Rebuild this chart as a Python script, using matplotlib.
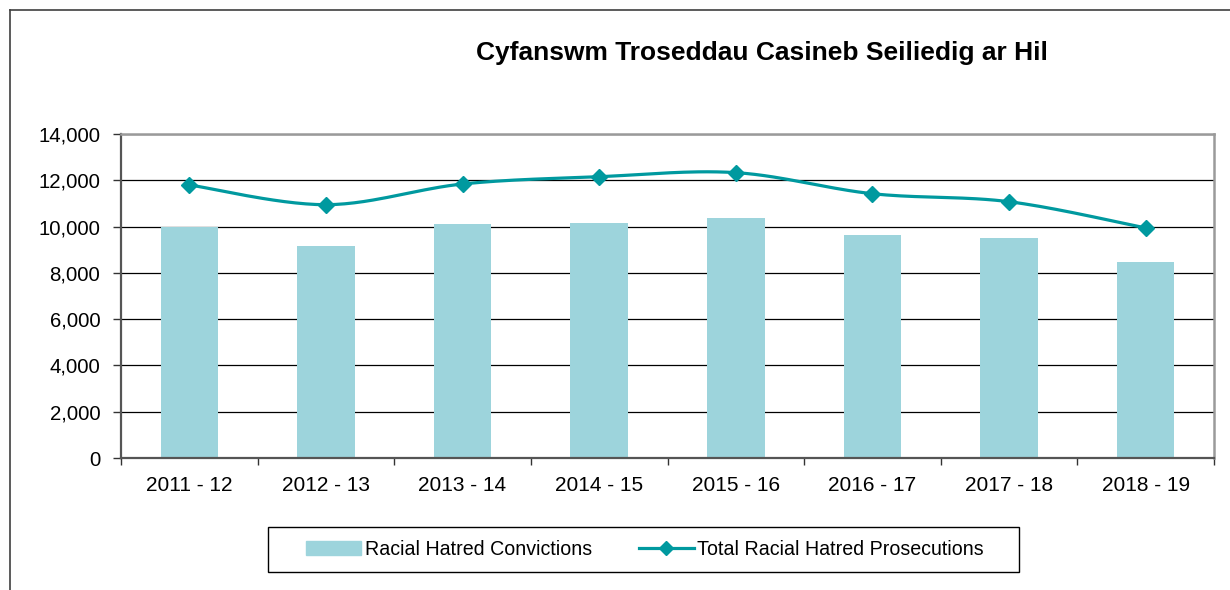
import numpy as np
import matplotlib
matplotlib.use("Agg")
import matplotlib.pyplot as plt
from matplotlib.patches import Rectangle
from matplotlib.lines import Line2D

categories = ["2011 - 12", "2012 - 13", "2013 - 14", "2014 - 15",
              "2015 - 16", "2016 - 17", "2017 - 18", "2018 - 19"]
convictions = [9990, 9160, 10110, 10150, 10385, 9620, 9505, 8455]
prosecutions = [11800, 10945, 11840, 12155, 12330, 11420, 11075, 9940]
title = "Cyfanswm Troseddau Casineb Seiliedig ar Hil"
bar_label = "Racial Hatred Convictions"
line_label = "Total Racial Hatred Prosecutions"

plt.rcParams['font.family'] = ['Liberation Sans', 'DejaVu Sans']

BAR_COLOR = '#9DD4DC'
LINE_COLOR = '#00999F'

fig = plt.figure(figsize=(12.3, 5.9), dpi=100)
ax = fig.add_axes([121/1230, 1 - 458/590, (1214-121)/1230, (458-134)/590])

x = np.arange(len(categories))
ax.bar(x, convictions, width=0.42, color=BAR_COLOR, zorder=2)


def catmull_rom(xs, ys, n=30):
    xs = np.asarray(xs, float)
    ys = np.asarray(ys, float)
    px = np.concatenate([[xs[0]], xs, [xs[-1]]])
    py = np.concatenate([[ys[0]], ys, [ys[-1]]])
    outx, outy = [], []
    t = np.linspace(0, 1, n)
    for i in range(1, len(px) - 2):
        p0 = np.array([px[i], py[i]])
        p3 = np.array([px[i + 1], py[i + 1]])
        c1 = p0 + (np.array([px[i + 1], py[i + 1]]) - np.array([px[i - 1], py[i - 1]])) / 6
        c2 = p3 - (np.array([px[i + 2], py[i + 2]]) - np.array([px[i], py[i]])) / 6
        b = ((1 - t) ** 3)[:, None] * p0 + (3 * (1 - t) ** 2 * t)[:, None] * c1 \
            + (3 * (1 - t) * t ** 2)[:, None] * c2 + (t ** 3)[:, None] * p3
        outx.extend(b[:, 0])
        outy.extend(b[:, 1])
    return np.array(outx), np.array(outy)


sx, sy = catmull_rom(x, prosecutions)
ax.plot(sx, sy, color=LINE_COLOR, lw=2.3, zorder=3, solid_capstyle='round')
ax.plot(x, prosecutions, linestyle='none', marker='D', markersize=8.5,
        color=LINE_COLOR, zorder=4)

ax.set_xlim(-0.5, len(categories) - 0.5)
ax.set_ylim(0, 14000)
ax.set_yticks(np.arange(0, 14001, 2000))
ax.set_yticklabels([f"{v:,}" for v in range(0, 14001, 2000)])
ax.yaxis.grid(True, color='#000000', lw=0.9, zorder=1)
ax.set_axisbelow(True)

ax.set_xticks(x)
ax.set_xticklabels(categories)
ax.set_xticks(np.arange(-0.5, len(categories)), minor=True)
ax.tick_params(axis='x', which='major', length=0, pad=13, labelsize=15)
ax.tick_params(axis='x', which='minor', length=5, width=1, color='#333333', direction='out')
ax.tick_params(axis='y', length=6, width=1, color='#333333', pad=9, labelsize=14.7)

for s in ['left', 'bottom']:
    ax.spines[s].set_color('#555555')
    ax.spines[s].set_linewidth(1.6)
for s in ['top', 'right']:
    ax.spines[s].set_color('#9A9A9A')
    ax.spines[s].set_linewidth(1.8)

fig.text(762/1230, 1 - 53/590, title, ha='center', va='center',
         fontsize=19, fontweight='bold')

# legend box
fig.add_artist(Rectangle((268/1230, 1 - 572/590), 751/1230, 45/590,
                         transform=fig.transFigure, fill=False,
                         edgecolor='#000000', lw=1.0))
handles = [Rectangle((0, 0), 1, 1, color=BAR_COLOR),
           Line2D([], [], color=LINE_COLOR, lw=2.3, marker='D', markersize=7)]
fig.legend(handles, [bar_label, line_label], loc='center',
           bbox_to_anchor=(645/1230, 1 - 549.5/590), ncol=2, frameon=False,
           fontsize=14.1, handlelength=2.8, handleheight=0.7, handletextpad=0.2,
           columnspacing=2.4)

# outer chart border (top and left)
fig.add_artist(Line2D([10/1230, 10/1230], [0, 1 - 10/590], transform=fig.transFigure,
                      color='#404040', lw=1.2))
fig.add_artist(Line2D([10/1230, 1], [1 - 10/590, 1 - 10/590], transform=fig.transFigure,
                      color='#404040', lw=1.2))

fig.savefig("out.png", dpi=100, facecolor='white')
